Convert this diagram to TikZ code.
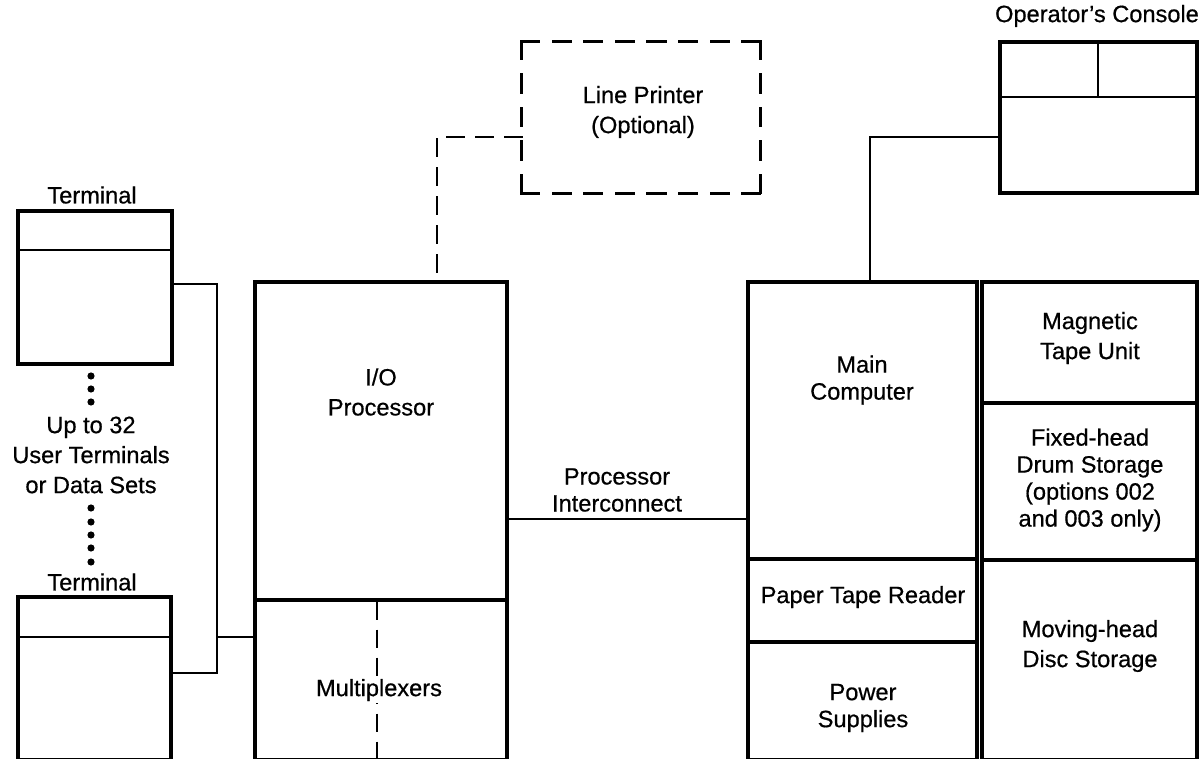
\documentclass[tikz,border=0pt]{standalone}
\usepackage{fontspec}
\setmainfont{Liberation Sans}[FakeBold=0.6]
\usetikzlibrary{fit}
\begin{document}
\begin{tikzpicture}[x=0.5pt,y=-0.5pt,
  box/.style={draw, line width=1.7pt, inner sep=0pt},
  ghost/.style={inner sep=0pt},
  dside/.style={line width=1.6pt, line cap=rect},
  divline/.style={line width=1.4pt},
  conn/.style={line width=1.1pt},
  dconn/.style={line width=1.2pt, dash pattern=on 8pt off 6.5pt},
  lbl/.style={align=center, inner sep=1pt, font=\fontsize{11.8}{15}\selectfont},
  lbltight/.style={align=center, inner sep=1pt, font=\fontsize{11.8}{13.5}\selectfont},
  tdot/.style={circle, fill, inner sep=0pt, minimum size=3.6pt}]
\useasboundingbox (0,0) rectangle (1201,759);
\begin{scope}
\clip (0,0) rectangle (1201,759);
% terminals
\node[box, fit={(18,211) (172,364)}] (t1) {};
\node[box, fit={(18,597) (171,760)}] (t2) {};
\coordinate (t1d) at (0,250);
\coordinate (t2d) at (0,637);
\draw[divline] (t1.west |- t1d) -- (t1.east |- t1d);
\draw[divline] (t2.west |- t2d) -- (t2.east |- t2d);
\node[lbl] (t1l) at (92,195) {Terminal};
\node[lbl] (t2l) at (92,582) {Terminal};
\node[lbl] (upto) at (91,455) {Up to 32\\User Terminals\\or Data Sets};
\node[tdot] (d1) at (91,376) {};
\node[tdot] (d2) at (91,389) {};
\node[tdot] (d3) at (91,402) {};
\node[tdot] (d4) at (91,508) {};
\node[tdot] (d5) at (91,522) {};
\node[tdot] (d6) at (91,535) {};
\node[tdot] (d7) at (91,548) {};
\node[tdot] (d8) at (91,562) {};
% I/O processor and multiplexers
\node[box, fit={(255,282) (507,600)}] (io) {};
\node[box, fit={(255,600) (507,760)}] (mp) {};
\node[lbl] (iol) at (381,392) {I/O\\Processor};
\coordinate (mx) at (377,0);
\draw[dconn, dash pattern=on 9pt off 5pt] (mx |- io.south) -- (mx |- mp.south);
\node[lbl, fill=white] (mpl) at (379,690) {Multiplexers};
% line printer (dashed box, each side drawn from corner to corner)
\node[ghost, fit={(522,42) (760,193)}] (lp) {};
\draw[dside, dash pattern=on 8.5pt off 7.3pt] (lp.north west) -- (lp.north east);
\draw[dside, dash pattern=on 8.5pt off 7.3pt] (lp.south west) -- (lp.south east);
\draw[dside, dash pattern=on 8.5pt off 8.25pt] (lp.north west) -- (lp.south west);
\draw[dside, dash pattern=on 8.5pt off 8.25pt] (lp.north east) -- (lp.south east);
\node[lbl] (lpl) at (643,112) {Line Printer\\(Optional)};
\coordinate (lc) at (437,137);
\draw[dconn, line cap=rect] (lp.west |- lc) -- (lc) -- (lc |- io.north);
% main column
\node[box, fit={(748,282) (977,559)}] (mc) {};
\node[box, fit={(748,559) (977,642)}] (pt) {};
\node[box, fit={(748,642) (977,760)}] (ps) {};
\node[lbltight] (mcl) at (862,380) {Main\\Computer};
\node[lbl] (ptl) at (863,597) {Paper Tape Reader};
\node[lbltight] (psl) at (863,708) {Power\\Supplies};
% right column
\node[box, fit={(982,282) (1197,403)}] (mt) {};
\node[box, fit={(982,403) (1197,560)}] (fh) {};
\node[box, fit={(982,560) (1197,760)}] (mh) {};
\node[lbl] (mtl) at (1090,338) {Magnetic\\Tape Unit};
\node[lbltight] (fhl) at (1090,480) {Fixed-head\\Drum Storage\\(options 002\\and 003 only)};
\node[lbl] (mhl) at (1090,646) {Moving-head\\Disc Storage};
% operator's console
\node[box, fit={(1000,42) (1197,193)}] (oc) {};
\coordinate (ocd) at (0,97);
\coordinate (ocv) at (1098,97);
\draw[divline] (oc.west |- ocd) -- (oc.east |- ocd);
\draw[divline] (ocv |- oc.north) -- (ocv);
\node[lbl] (ocl) at (1097,16) {Operator's Console};
% connectors
\coordinate (b1) at (217,284);
\coordinate (b2) at (217,637);
\coordinate (b3) at (217,673);
\draw[conn] (t1.east |- b1) -- (b1) -- (b3) -- (t2.east |- b3);
\draw[conn] (b2) -- (io.west |- b2);
\coordinate (pic) at (0,519);
\draw[conn] (io.east |- pic) -- (mc.west |- pic);
\node[lbltight] (picl) at (617,490) {Processor\\Interconnect};
\coordinate (cc) at (870,137);
\draw[conn] (oc.west |- cc) -- (cc) -- (cc |- mc.north);
\end{scope}
\end{tikzpicture}
\end{document}
